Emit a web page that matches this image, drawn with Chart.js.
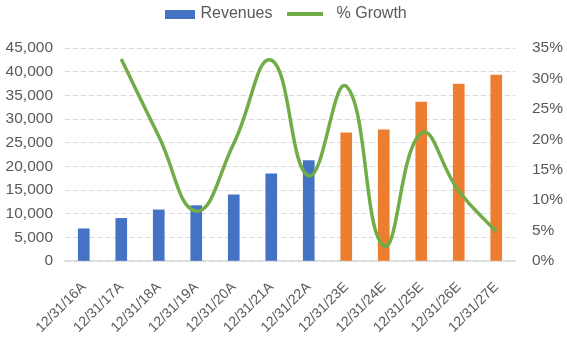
<!DOCTYPE html>
<html>
<head>
<meta charset="utf-8">
<script src="https://cdn.jsdelivr.net/npm/chart.js@4"></script>
<style>
  html, body { margin: 0; padding: 0; background: #fff; }
  #wrap { width: 567px; height: 341px; }
</style>
</head>
<body>
<div id="wrap"><canvas id="revChart" width="567" height="341"></canvas></div>
<script>
// data
const periods = ["12/31/16A", "12/31/17A", "12/31/18A", "12/31/19A", "12/31/20A", "12/31/21A",
  "12/31/22A", "12/31/23E", "12/31/24E", "12/31/25E", "12/31/26E", "12/31/27E"];
const revenues = [6800, 9000, 10800, 11700, 14000, 18400, 21200, 27100, 27700, 33600, 37400, 39300];
const growthPct = [null, 33.2, 20.5, 8.2, 19.3, 33.0, 14.0, 28.7, 2.5, 21.0, 11.5, 4.8];
const revenueTicks = [0, 5000, 10000, 15000, 20000, 25000, 30000, 35000, 40000, 45000];
const growthTicks = [0, 5, 10, 15, 20, 25, 30, 35];

const BLUE = "#4472C4", ORANGE = "#ED7D31", GREEN = "#70AD47", TXT = "#595959";
const barColors = periods.map(p => p.endsWith("E") ? ORANGE : BLUE);
const FAMILY = "'Liberation Sans', Arial, sans-serif";

// legend swatches: drawn centred in a 50px slot, so the offsets place them
function swatch(w, h, x0, x1, color) {
  const c = document.createElement("canvas");
  c.width = w; c.height = h;
  const g = c.getContext("2d");
  g.fillStyle = color;
  g.fillRect(x0, 0, x1 - x0, h);
  return c;
}
const barSwatch = swatch(55, 9, 25, 55, BLUE);
const lineSwatch = swatch(39, 4, 3, 39, GREEN);

// keep a fixed band for the legend above the plot
const legendBand = {
  id: "legendBand",
  afterInit(chart) {
    const lg = chart.legend;
    const fit = lg.fit;
    lg.fit = function () { fit.call(this); this.height = 48; };
  },
};

new Chart(document.getElementById("revChart"), {
  plugins: [legendBand],
  data: {
    labels: periods,
    datasets: [
      {
        type: "line",
        label: "% Growth",
        data: growthPct,
        yAxisID: "y1",
        borderColor: GREEN,
        borderWidth: 3.5,
        pointRadius: 0,
        tension: 0.45,
        fill: false,
        order: 0,
      },
      {
        type: "bar",
        label: "Revenues",
        data: revenues,
        yAxisID: "y",
        backgroundColor: barColors,
        barThickness: 11,
        order: 1,
      },
    ],
  },
  options: {
    responsive: false,
    animation: false,
    layout: { padding: 0 },
    plugins: {
      tooltip: { enabled: false },
      legend: {
        position: "top",
        labels: {
          color: TXT,
          font: { family: FAMILY, size: 16 },
          usePointStyle: true,
          pointStyleWidth: 50,
          padding: 6,
          generateLabels: () => [
            { text: "Revenues", pointStyle: barSwatch, fillStyle: BLUE, strokeStyle: BLUE, lineWidth: 0, fontColor: TXT, datasetIndex: 1 },
            { text: "% Growth    ", pointStyle: lineSwatch, fillStyle: GREEN, strokeStyle: GREEN, lineWidth: 0, fontColor: TXT, datasetIndex: 0 },
          ],
        },
      },
    },
    scales: {
      x: {
        afterFit: axis => { axis.height = 80; },
        grid: { display: false },
        border: { color: "#D9D9D9", width: 1.5 },
        ticks: { color: TXT, font: { family: FAMILY, size: 14 }, minRotation: 45, maxRotation: 45, padding: 10 },
      },
      y: {
        position: "left",
        min: 0,
        max: 45000,
        afterBuildTicks: axis => { axis.ticks = revenueTicks.map(v => ({ value: v })); },
        afterFit: axis => { axis.width = 65; },
        grid: { color: "#D9D9D9", drawTicks: false },
        border: { display: false, dash: [5, 3] },
        ticks: {
          color: TXT, font: { family: FAMILY, size: 15.5 }, padding: 12,
          callback: v => v.toLocaleString("en-US"),
        },
      },
      y1: {
        position: "right",
        min: 0,
        max: 35,
        afterBuildTicks: axis => { axis.ticks = growthTicks.map(v => ({ value: v })); },
        afterFit: axis => { axis.width = 52; },
        grid: { display: false, drawTicks: false },
        border: { display: false },
        ticks: { color: TXT, font: { family: FAMILY, size: 15.5 }, padding: 17, callback: v => v + "%" },
      },
    },
  },
});
</script>
</body>
</html>
